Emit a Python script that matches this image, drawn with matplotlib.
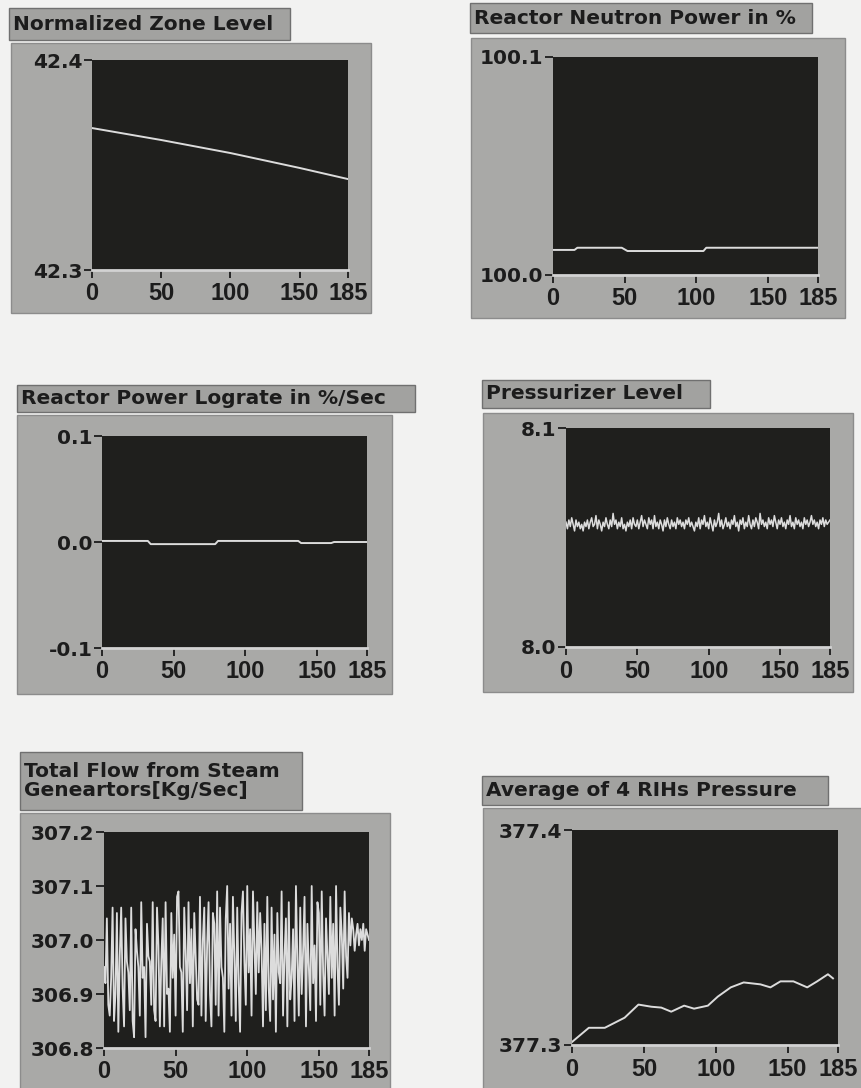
#! /usr/bin/env python3

# Six LabVIEW style trend panels from a reactor simulator run.

import matplotlib
matplotlib.use('Agg')
import matplotlib.pyplot as plt
from matplotlib.patches import Rectangle
import numpy as np

# ---- data ----
zone_t = [0, 50, 100, 150, 185]
zone_lvl = [42.3676, 42.3619, 42.3557, 42.3486, 42.3433]

neut_t = [0, 15, 17, 48, 52, 105, 107, 185]
neut_pw = [100.0115, 100.0115, 100.0125, 100.0125, 100.0110, 100.0110, 100.0125, 100.0125]

lograte_t = [0, 32, 34, 79, 81, 137, 139, 160, 162, 185]
lograte = [0.001, 0.001, -0.002, -0.002, 0.001, 0.001, -0.001, -0.001, 0.0, 0.0]

przr_lvl = [8.057, 8.054, 8.058, 8.055, 8.059, 8.056, 8.053, 8.058, 8.055, 8.057,
            8.054, 8.056, 8.053, 8.057, 8.055, 8.058, 8.054, 8.057, 8.059, 8.055,
            8.056, 8.060, 8.054, 8.058, 8.056, 8.053, 8.057, 8.055, 8.059, 8.056,
            8.054, 8.058, 8.055, 8.061, 8.056, 8.058, 8.054, 8.057, 8.055, 8.059,
            8.054, 8.056, 8.053, 8.057, 8.055, 8.058, 8.054, 8.059, 8.056, 8.055,
            8.058, 8.054, 8.057, 8.060, 8.055, 8.058, 8.056, 8.054, 8.059, 8.056,
            8.058, 8.054, 8.060, 8.055, 8.057, 8.054, 8.058, 8.056, 8.053, 8.058,
            8.055, 8.059, 8.056, 8.054, 8.058, 8.055, 8.057, 8.054, 8.059, 8.056,
            8.058, 8.055, 8.057, 8.054, 8.058, 8.056, 8.059, 8.055, 8.057, 8.055,
            8.053, 8.057, 8.055, 8.059, 8.054, 8.058, 8.056, 8.060, 8.055, 8.057,
            8.054, 8.059, 8.056, 8.053, 8.058, 8.055, 8.057, 8.061, 8.055, 8.058,
            8.054, 8.056, 8.059, 8.055, 8.057, 8.054, 8.058, 8.056, 8.060, 8.055,
            8.057, 8.053, 8.058, 8.056, 8.059, 8.054, 8.057, 8.055, 8.060, 8.056,
            8.054, 8.058, 8.055, 8.059, 8.057, 8.054, 8.061, 8.056, 8.058, 8.055,
            8.057, 8.054, 8.059, 8.056, 8.058, 8.055, 8.060, 8.057, 8.054, 8.058,
            8.056, 8.059, 8.055, 8.057, 8.054, 8.058, 8.056, 8.060, 8.055, 8.057,
            8.054, 8.059, 8.056, 8.058, 8.055, 8.057, 8.054, 8.059, 8.056, 8.058,
            8.055, 8.057, 8.060, 8.056, 8.058, 8.055, 8.057, 8.054, 8.058, 8.056,
            8.059, 8.055, 8.058, 8.056, 8.057, 8.058]

sg_flow = [306.95, 306.92, 307.04, 306.88, 306.86, 306.93, 307.06, 306.85, 306.90, 307.05,
           306.83, 306.97, 307.06, 306.91, 306.84, 307.04, 306.96, 306.94, 306.87, 307.06,
           306.85, 306.82, 307.02, 306.98, 306.95, 306.86, 307.07, 306.93, 306.95, 306.82,
           307.03, 306.97, 306.96, 306.88, 307.07, 306.87, 306.85, 307.06, 306.99, 306.84,
           306.96, 307.04, 306.84, 307.07, 306.90, 306.91, 306.83, 307.05, 306.93, 307.01,
           306.86, 307.08, 307.09, 306.95, 306.94, 306.83, 307.06, 306.98, 306.87, 307.07,
           306.92, 307.02, 306.84, 307.05, 306.97, 306.89, 306.88, 307.08, 306.86, 307.00,
           307.06, 306.85, 306.99, 307.07, 306.90, 306.84, 307.05, 307.03, 306.88, 307.09,
           306.86, 307.06, 306.95, 306.93, 306.83, 307.04, 307.10, 306.91, 307.03, 306.86,
           307.08, 306.97, 306.85, 307.06, 306.92, 306.83, 307.05, 307.09, 306.96, 306.88,
           307.10, 306.94, 307.02, 306.86, 307.09, 306.99, 306.90, 307.07, 306.94, 307.05,
           306.98, 306.84, 307.03, 306.87, 307.08, 306.91, 306.85, 307.06, 306.89, 307.01,
           306.83, 307.05, 306.94, 306.92, 307.09, 306.86, 306.97, 307.04, 306.84, 307.07,
           306.89, 306.93, 307.02, 306.85, 307.10, 306.96, 306.86, 307.06, 306.90, 306.98,
           307.08, 306.84, 307.03, 306.95, 306.87, 307.10, 306.92, 306.99, 306.85, 307.07,
           307.05, 306.88, 307.09, 306.94, 306.86, 307.04, 306.97, 306.90, 307.08, 306.93,
           307.03, 306.86, 307.10, 306.95, 306.88, 307.06, 307.01, 306.91, 307.09, 306.97,
           306.93, 307.05, 306.99, 307.04, 307.02, 306.98, 307.01, 307.03, 306.99, 307.02,
           307.00, 307.03, 306.98, 307.02, 307.01, 307.00]

rih_t = [0, 11.7, 22.8, 36.6, 46.2, 55.2, 62.1, 69, 78, 84.9, 94.5, 101.4,
         110.4, 119.4, 131.1, 138, 145, 154, 163.6, 170.5, 178, 181.5]
rih_p = [377.3014, 377.308, 377.308, 377.3127, 377.3188, 377.3178, 377.3174,
         377.3155, 377.3183, 377.3169, 377.3183, 377.3225, 377.3268, 377.3291,
         377.3282, 377.3268, 377.3296, 377.3296, 377.3268, 377.3296, 377.3329, 377.331]

x_ticks = [0, 50, 100, 150, 185]

W, H = 861, 1088
BG = '#f2f2f1'
FRAME = '#a9a9a7'
TITLEBOX = '#a2a2a0'
PLOT = '#1f1f1d'
TRACE = '#dcdcdc'
INK = '#1c1c1c'

plt.rcParams['font.family'] = ['DejaVu Sans']
plt.rcParams['font.weight'] = 'bold'

fig = plt.figure(figsize=(W / 100, H / 100), dpi=100, facecolor=BG)


def frac(x0, y0, x1, y1):
    return [x0 / W, 1 - y1 / H, (x1 - x0) / W, (y1 - y0) / H]


def box(x0, y0, x1, y1, fc, ec):
    l, b, w, h = frac(x0, y0, x1, y1)
    fig.add_artist(Rectangle((l, b), w, h, transform=fig.transFigure,
                             facecolor=fc, edgecolor=ec, lw=1.0, zorder=-2))


def panel(title, tbox, frame, plot, t, y, ylim, yticks, ylabels, lw=1.4):
    box(*tbox, TITLEBOX, '#707070')
    tx = (tbox[0] + 4) / W
    ty = 1 - (tbox[1] + tbox[3]) / 2 / H
    fig.text(tx, ty, title, fontsize=14.5, fontweight='bold', color=INK,
             ha='left', va='center', linespacing=1.05)
    box(*frame, FRAME, '#8c8c8c')
    ax = fig.add_axes(frac(*plot))
    ax.set_facecolor(PLOT)
    ax.plot(t, y, color=TRACE, lw=lw)
    ax.set_xlim(0, 185)
    ax.set_ylim(*ylim)
    ax.set_xticks(x_ticks)
    ax.set_xticklabels([str(v) for v in x_ticks], family='Liberation Sans',
                       fontsize=17, fontweight='bold')
    ax.set_yticks(yticks)
    ax.set_yticklabels(ylabels, family='DejaVu Sans', fontsize=14.5, fontweight='bold')
    for s in ['top', 'right', 'left']:
        ax.spines[s].set_visible(False)
    ax.spines['bottom'].set_color('#d2d2d2')
    ax.spines['bottom'].set_linewidth(2)
    ax.tick_params(axis='both', direction='out', length=6, width=1.3,
                   color=INK, labelcolor=INK, pad=1)
    ax.tick_params(axis='x', pad=3)
    return ax


panel('Normalized Zone Level', (9, 8, 290, 40), (11, 43, 371, 313), (92, 60, 348, 270),
      zone_t, zone_lvl, (42.3, 42.4), [42.3, 42.4], ['42.3', '42.4'])

panel('Reactor Neutron Power in %', (470, 3, 812, 33), (471, 38, 845, 318), (553, 57, 818, 275),
      neut_t, neut_pw, (100.0, 100.1), [100.0, 100.1], ['100.0', '100.1'])

panel('Reactor Power Lograte in %/Sec', (17, 385, 415, 412), (17, 415, 392, 694), (102, 436, 367, 648),
      lograte_t, lograte, (-0.1, 0.1), [-0.1, 0.0, 0.1], ['-0.1', '0.0', '0.1'])

panel('Pressurizer Level', (482, 380, 710, 408), (483, 413, 853, 692), (566, 428, 830, 647),
      np.arange(186), przr_lvl, (8.0, 8.1), [8.0, 8.1], ['8.0', '8.1'], lw=1.1)

panel('Total Flow from Steam\nGeneartors[Kg/Sec]', (20, 752, 302, 810), (20, 813, 390, 1095),
      (104, 832, 369, 1048), np.arange(186), sg_flow, (306.8, 307.2),
      [306.8, 306.9, 307.0, 307.1, 307.2], ['306.8', '306.9', '307.0', '307.1', '307.2'], lw=1.3)

panel('Average of 4 RIHs Pressure', (482, 776, 828, 805), (483, 808, 868, 1095), (572, 830, 838, 1045),
      rih_t, rih_p, (377.3, 377.4), [377.3, 377.4], ['377.3', '377.4'])

plt.savefig('out.png', dpi=100, facecolor=BG)
